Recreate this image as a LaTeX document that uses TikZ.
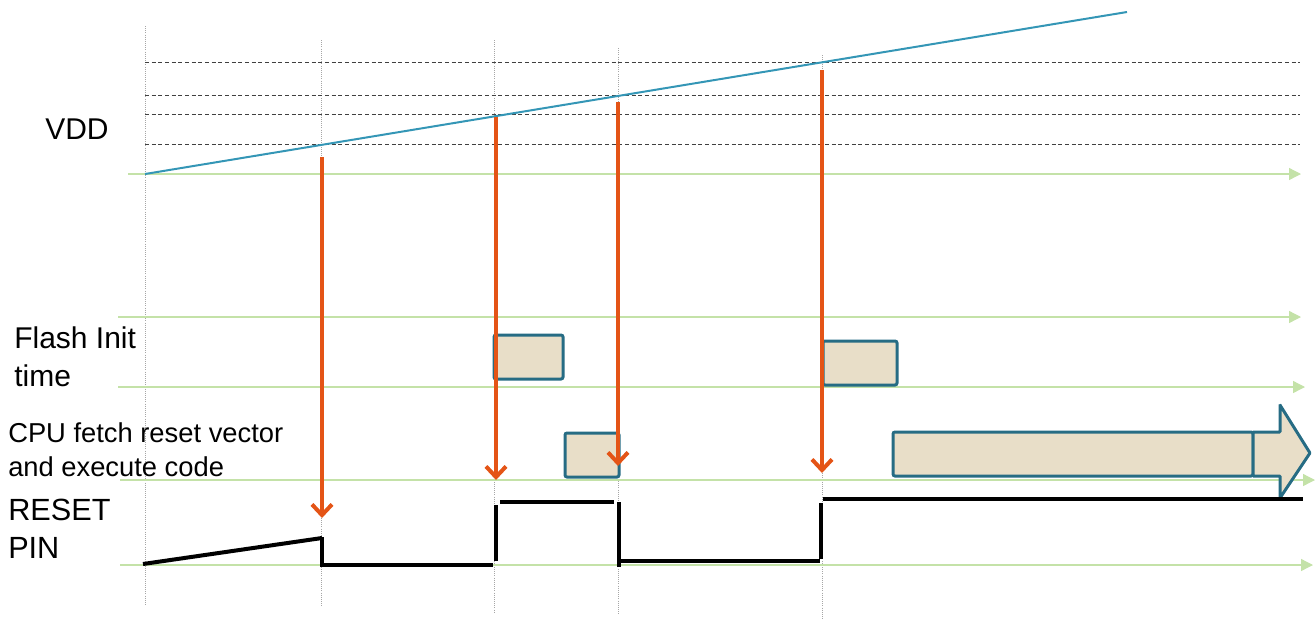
\documentclass[tikz,border=0pt]{standalone}
\usepackage{fontspec}
\setmainfont{Liberation Sans}
\usetikzlibrary{arrows.meta,positioning}
\definecolor{vddblue}{RGB}{52,150,182}
\definecolor{evorange}{RGB}{228,84,22}
\definecolor{axisgreen}{RGB}{196,226,168}
\definecolor{barteal}{RGB}{38,108,132}
\definecolor{barfill}{RGB}{232,222,200}
\tikzset{
    tickline/.style={densely dotted,gray!70,line width=0.6pt},
    vthresh/.style={dash pattern=on 3pt off 2pt,black!75,line width=0.75pt},
    timeaxis/.style={-{Triangle[length=9pt,width=9pt]},axisgreen,line width=1pt},
    trigger/.style={-{Straight Barb[length=8pt,width=15pt]},evorange,line width=3pt},
    resetline/.style={black,line width=3pt},
    barbox/.style={draw=barteal,fill=barfill,line width=2.25pt,rounded corners=1.5pt},
    lbl/.style={anchor=base west,inner sep=0pt,align=left}
}

\begin{document}
\begin{tikzpicture}[x=0.75pt,y=-0.75pt]

    \useasboundingbox (0,0) rectangle (1315,619);

    % time marks
    \coordinate (g0a) at (145,26);  \coordinate (g0b) at (145,605);
    \coordinate (g1a) at (321,40);  \coordinate (g1b) at (321,606);
    \coordinate (g2a) at (494,40);  \coordinate (g2b) at (494,612);
    \coordinate (g3a) at (618,48);  \coordinate (g3b) at (618,615);
    \coordinate (g4a) at (822,55);  \coordinate (g4b) at (822,619);
    \foreach \i in {0,...,4}
        \draw[tickline] (g\i a) -- (g\i b);

    % thresholds
    \foreach \y in {62,95,114,144}
        \draw[vthresh] (145,\y) -- (1300,\y);

    % axes
    \coordinate (ax0a) at (128,174); \coordinate (ax0b) at (1301,174);
    \coordinate (ax1a) at (118,317); \coordinate (ax1b) at (1301,317);
    \coordinate (ax2a) at (118,387); \coordinate (ax2b) at (1305,387);
    \coordinate (ax3a) at (120,480); \coordinate (ax3b) at (1315,480);
    \coordinate (ax4a) at (120,565); \coordinate (ax4b) at (1313,565);
    \foreach \i in {0,...,4}
        \draw[timeaxis] (ax\i a) -- (ax\i b);

    % VDD ramp
    \coordinate (vdda) at (145,174);
    \coordinate (vddb) at (1127,12);
    \draw[vddblue,line width=1.5pt] (vdda) -- (vddb);

    % flash init and cpu bars
    \draw[barbox] (494,335) rectangle (563,379);
    \draw[barbox] (823,341) rectangle (897,385);
    \draw[barbox] (565,433) rectangle (619,477);
    \draw[barbox] (893,432) rectangle (1253,476);
    \draw[barbox,rounded corners=0.5pt] (1253,432) -- (1280,432) -- (1280,405) -- (1310,453)
        -- (1280,498) -- (1280,476) -- (1253,476) -- cycle;

    % reset pin
    \draw[resetline] (143,564) -- (322,538);
    \draw[resetline] (322,537) -- (322,565) -- (493,565);
    \draw[resetline] (496,505) -- (496,561);
    \draw[resetline] (500,502) -- (614,502);
    \draw[resetline] (619,502) -- (619,567);
    \draw[resetline] (619,561) -- (820,561);
    \draw[resetline] (821,503) -- (821,559);
    \draw[resetline] (823,499) -- (1303,499);

    % triggers
    \coordinate (t1a) at (322,157); \coordinate (t1b) at (322,518);
    \coordinate (t2a) at (496,117); \coordinate (t2b) at (496,480);
    \coordinate (t3a) at (618,102); \coordinate (t3b) at (618,466);
    \coordinate (t4a) at (822,70);  \coordinate (t4b) at (822,473);
    \foreach \i in {1,...,4}
        \draw[trigger] (t\i a) -- (t\i b);

    % labels
    \node[lbl,font=\fontsize{22.5}{28.5}\selectfont] (vdd) at (45,139) {VDD};
    \node[lbl,font=\fontsize{22.5}{28.5}\selectfont] (flash) at (14,386) {Flash Init\\time};
    \node[lbl,font=\fontsize{20.5}{25.5}\selectfont] (cpu) at (8,476) {CPU fetch reset vector\\and execute code};
    \node[lbl,font=\fontsize{23}{28.5}\selectfont] (reset) at (8,558) {RESET\\PIN};

\end{tikzpicture}
\end{document}
